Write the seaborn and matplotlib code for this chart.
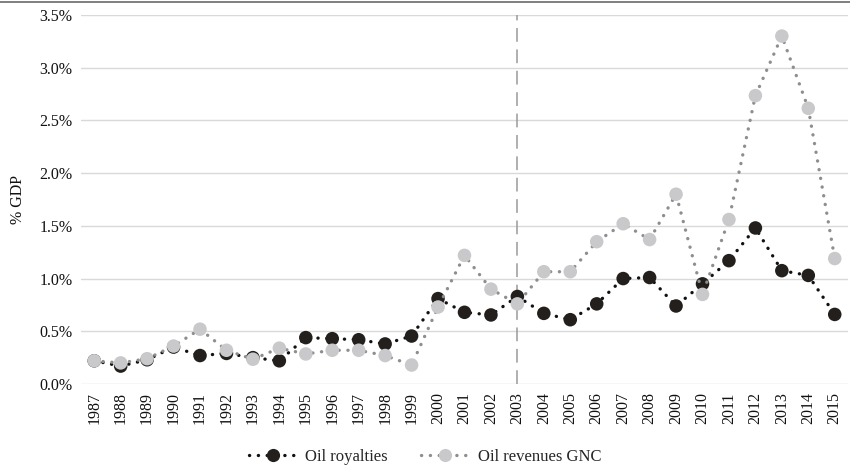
import matplotlib
matplotlib.use("Agg")
import matplotlib.pyplot as plt
import seaborn as sns
import pandas as pd
from matplotlib.lines import Line2D
from matplotlib.ticker import FuncFormatter

# data (% of GDP)
years = [str(y) for y in range(1987, 2016)]
oil_royalties = [0.22, 0.17, 0.23, 0.35, 0.27, 0.29, 0.25, 0.22, 0.44, 0.43,
                 0.42, 0.38, 0.455, 0.81, 0.68, 0.655, 0.83, 0.67, 0.61, 0.76,
                 1.00, 1.01, 0.74, 0.95, 1.17, 1.48, 1.075, 1.03, 0.66]
oil_revenues_gnc = [0.22, 0.20, 0.24, 0.36, 0.52, 0.32, 0.235, 0.34, 0.285, 0.32,
                    0.32, 0.27, 0.18, 0.73, 1.22, 0.90, 0.76, 1.065, 1.065, 1.35,
                    1.52, 1.37, 1.80, 0.85, 1.56, 2.735, 3.30, 2.615, 1.19]
yticks = [0.0, 0.5, 1.0, 1.5, 2.0, 2.5, 3.0, 3.5]
marker_year = "2003"

df = pd.DataFrame({"year": years * 2,
                   "value": oil_royalties + oil_revenues_gnc,
                   "series": ["Oil royalties"] * len(years) + ["Oil revenues GNC"] * len(years)})

sns.set_theme(style="white")
plt.rcParams["font.family"] = ["Liberation Serif", "DejaVu Serif"]

fig = plt.figure(figsize=(8.5, 4.71), dpi=100)
ax = fig.add_axes([0.0953, 0.1847, 0.9023, 0.7835])

styles = {
    "Oil royalties": dict(line="#111111", face="#231f1d"),
    "Oil revenues GNC": dict(line="#8e8e8e", face="#c9c9cc"),
}
for i, (name, st) in enumerate(styles.items()):
    sub = df[df["series"] == name]
    sns.lineplot(data=sub, x="year", y="value", ax=ax, color=st["line"],
                 linewidth=2.4, sort=False, zorder=3 + i, label=None)
    line = ax.lines[-1]
    line.set_linestyle((0, (0.05, 2.6)))
    line.set_dash_capstyle("round")
    sns.scatterplot(data=sub, x="year", y="value", ax=ax, color=st["face"],
                    s=95, edgecolor="none", zorder=3.5 + i, legend=False)

idx = years.index(marker_year)
ax.axvline(idx, color="#9a9a9a", linewidth=1.1, linestyle=(0, (9, 5)), zorder=2)

ax.set_xlim(-0.5, len(years) - 0.5)
ax.set_ylim(0, 3.5)
ax.set_yticks(yticks)
ax.yaxis.set_major_formatter(FuncFormatter(lambda v, p: f"{v:.1f}%"))
ax.set_xticks(range(len(years)))
ax.set_xticklabels(years, rotation=90)
ax.tick_params(axis="both", labelsize=11.5, colors="#111111", length=0, pad=6)
ax.grid(axis="y", color="#d9d9d9", linewidth=1.0)
ax.set_axisbelow(True)
for s in ax.spines.values():
    s.set_visible(False)
ax.set_xlabel("")
ax.set_ylabel("% GDP", fontsize=11.5, color="#111111", labelpad=10)

handles = [
    Line2D([], [], color="#111111", linewidth=2.4, linestyle=(0, (0.05, 2.6)),
           dash_capstyle="round", marker="o", markersize=9.5,
           markerfacecolor="#231f1d", markeredgecolor="none"),
    Line2D([], [], color="#8e8e8e", linewidth=2.4, linestyle=(0, (0.05, 2.6)),
           dash_capstyle="round", marker="o", markersize=9.5,
           markerfacecolor="#c9c9cc", markeredgecolor="none"),
]
fig.legend(handles, list(styles.keys()), loc="center", bbox_to_anchor=(0.5, 0.03),
           ncol=2, frameon=False, fontsize=12, handlelength=2.9, handletextpad=0.5,
           columnspacing=2.0)

fig.add_artist(Line2D([0, 1], [0.995, 0.995], color="#6a6a6a", linewidth=1.2,
                      transform=fig.transFigure))

fig.savefig("out.png", dpi=100)
